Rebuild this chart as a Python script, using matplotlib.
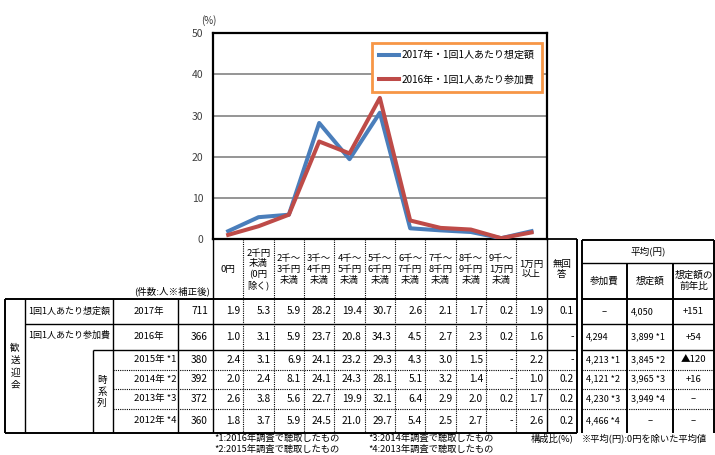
import matplotlib
matplotlib.use('Agg')
import matplotlib.pyplot as plt
import numpy as np

plt.rcParams['font.family'] = ['Noto Sans CJK JP', 'DejaVu Sans']

# ---------------- data ----------------
categories = ['0円', '2千円\n未満\n(0円\n除く)', '2千〜\n3千円\n未満', '3千〜\n4千円\n未満',
              '4千〜\n5千円\n未満', '5千〜\n6千円\n未満', '6千〜\n7千円\n未満', '7千〜\n8千円\n未満',
              '8千〜\n9千円\n未満', '9千〜\n1万円\n未満', '1万円\n以上', '無回\n答']
series_2017 = [1.9, 5.3, 5.9, 28.2, 19.4, 30.7, 2.6, 2.1, 1.7, 0.2, 1.9]
series_2016 = [1.0, 3.1, 5.9, 23.7, 20.8, 34.3, 4.5, 2.7, 2.3, 0.2, 1.6]
legend_labels = ['2017年・1回1人あたり想定額', '2016年・1回1人あたり参加費']
yticks = [0, 10, 20, 30, 40, 50]

group_label = '歓\n送\n迎\n会'
row_labels = ['1回1人あたり想定額', '1回1人あたり参加費']
series_label = '時\n系\n列'
years = ['2017年', '2016年', '2015年 *1', '2014年 *2', '2013年 *3', '2012年 *4']
counts = [711, 366, 380, 392, 372, 360]
no_answer = [0.1, None, None, 0.2, 0.2, 0.2]
rows_2015 = [2.4, 3.1, 6.9, 24.1, 23.2, 29.3, 4.3, 3.0, 1.5, None, 2.2]
rows_2014 = [2.0, 2.4, 8.1, 24.1, 24.3, 28.1, 5.1, 3.2, 1.4, None, 1.0]
rows_2013 = [2.6, 3.8, 5.6, 22.7, 19.9, 32.1, 6.4, 2.9, 2.0, 0.2, 1.7]
rows_2012 = [1.8, 3.7, 5.9, 24.5, 21.0, 29.7, 5.4, 2.5, 2.7, None, 2.6]

avg_header = '平均(円)'
avg_cols = ['参加費', '想定額', '想定額の\n前年比']
avg_sanka = [None, '4,294', '4,213 *1', '4,121 *2', '4,230 *3', '4,466 *4']
avg_sotei = ['4,050', '3,899 *1', '3,845 *2', '3,965 *3', '3,949 *4', None]
avg_ratio = ['+151', '+54', '▲120', '+16', None, None]

count_note = '(件数:人※補正後)'
footnotes = ['*1:2016年調査で聴取したもの', '*2:2015年調査で聴取したもの',
             '*3:2014年調査で聴取したもの', '*4:2013年調査で聴取したもの']
ratio_note = '構成比(%)'
avg_note = '※平均(円):0円を除いた平均値'

# ---------------- figure ----------------
W, H = 715, 455
fig = plt.figure(figsize=(7.15, 4.55), dpi=100)
ov = fig.add_axes([0, 0, 1, 1])
ov.set_xlim(0, W)
ov.set_ylim(H, 0)
ov.axis('off')

AX_L, AX_R, AX_T, AX_B = 213, 546.7, 33.3, 239
ax = fig.add_axes([AX_L / W, 1 - AX_B / H, (AX_R - AX_L) / W, (AX_B - AX_T) / H])
x = np.arange(len(series_2017))
ax.plot(x, series_2017, color='#4A7EBB', lw=2.9, label=legend_labels[0], zorder=3)
ax.plot(x, series_2016, color='#BE4B48', lw=2.9, label=legend_labels[1], zorder=3)
ax.set_xlim(-0.5, len(x) - 0.5)
ax.set_ylim(0, 50)
ax.set_yticks(yticks)
ax.set_xticks([])
ax.yaxis.grid(True, color='#8C8C8C', lw=1.3)
ax.set_axisbelow(True)
ax.tick_params(axis='y', length=0, pad=7, labelsize=7.5, labelcolor='#404040')
for s in ax.spines.values():
    s.set_linewidth(1.6)
    s.set_color('black')
leg = ax.legend(loc='upper right', bbox_to_anchor=(0.985, 0.955), borderaxespad=0,
                fontsize=7.2, handlelength=2.0, handletextpad=0.2, labelspacing=1.45,
                fancybox=False, framealpha=1, borderpad=0.75)
leg.get_frame().set_edgecolor('#F79646')
leg.get_frame().set_linewidth(2.0)
ov.text(209, 21, '(%)', fontsize=7, ha='center', va='center', color='#333333')

# ---------------- table ----------------
def hline(y, x0, x1, lw=1.0, ls='-'):
    ov.plot([x0, x1], [y, y], color='black', lw=lw, ls=ls, solid_capstyle='butt')

def vline(xv, y0, y1, lw=1.0, ls='-'):
    ov.plot([xv, xv], [y0, y1], color='black', lw=lw, ls=ls, solid_capstyle='butt')

DOT = (0, (1, 1))
ncat = len(series_2017)
cw = (AX_R - AX_L) / ncat
edges = [AX_L + i * cw for i in range(ncat + 1)] + [AX_R + cw]
rows_y = [299, 324, 350, 369.5, 389, 409, 433]
TX = 4.7
X_GRP, X_TS, X_LAB, X_CNT = 25, 92.7, 113.3, 178.3
XR = edges[-1]
HDR_TOP = AX_B
FS = 6.9

# header
hline(HDR_TOP, AX_R, XR, lw=1.3)
vline(AX_L, HDR_TOP, rows_y[-1], lw=1.0)
for i in range(1, ncat):
    vline(edges[i], HDR_TOP, rows_y[-1], lw=0.8, ls=DOT)
vline(edges[ncat], HDR_TOP, rows_y[-1], lw=1.0)
vline(XR, HDR_TOP, rows_y[-1], lw=1.4)
for i, lab in enumerate(categories):
    cx = (edges[i] + edges[i + 1]) / 2
    ov.text(cx, (HDR_TOP + rows_y[0]) / 2 + 0.5, lab, fontsize=6.8, ha='center', va='center',
            multialignment='center', linespacing=1.22)
ov.text(210, 291.5, count_note, fontsize=6.8, ha='right', va='center')

# table body grid
hline(rows_y[0], TX, XR, lw=1.4)
hline(rows_y[-1], TX, XR, lw=1.4)
hline(rows_y[1], X_GRP, XR, lw=1.0)
hline(rows_y[2], X_TS, XR, lw=1.0)
for y in rows_y[3:-1]:
    hline(y, X_LAB, XR, lw=0.8, ls=DOT)
vline(TX, rows_y[0], rows_y[-1], lw=1.4)
vline(X_GRP, rows_y[0], rows_y[-1], lw=1.0)
vline(X_TS, rows_y[2], rows_y[-1], lw=1.0)
vline(X_LAB, rows_y[0], rows_y[-1], lw=1.0)
vline(X_CNT, rows_y[0], rows_y[-1], lw=1.0)

ov.text(15, 367, group_label, fontsize=FS, ha='center', va='center', linespacing=1.4)
ov.text(102, 392, series_label, fontsize=FS, ha='center', va='center', linespacing=1.35)
for i, lab in enumerate(row_labels):
    ov.text(28, (rows_y[i] + rows_y[i + 1]) / 2 - (0 if i == 0 else 1.5), lab,
            fontsize=6.5, ha='left', va='center')

table_rows = [series_2017, series_2016, rows_2015, rows_2014, rows_2013, rows_2012]
for r in range(len(years)):
    cy = (rows_y[r] + rows_y[r + 1]) / 2
    ov.text(134, cy, years[r], fontsize=6.8, ha='left', va='center')
    ov.text(208, cy, str(counts[r]), fontsize=7.3, ha='right', va='center')
    vals = list(table_rows[r]) + [no_answer[r]]
    for i, v in enumerate(vals):
        s = '-' if v is None else f'{v:.1f}'
        ov.text(edges[i + 1] - 3, cy, s, fontsize=7.3, ha='right', va='center')

# average table
AL, A1, A2, AR = 581.7, 627, 673, 714
AVG_MID = 262.7
hline(HDR_TOP + 1, AL, AR, lw=1.4)
hline(AVG_MID, AL, AR, lw=1.0)
hline(rows_y[0], AL, AR, lw=1.4)
hline(rows_y[1], AL, AR, lw=1.0)
hline(rows_y[2], AL, AR, lw=1.0)
for y in rows_y[3:-1]:
    hline(y, AL, AR, lw=0.8, ls=DOT)
vline(AL, HDR_TOP + 1, rows_y[-1], lw=1.4)
vline(A1, AVG_MID, rows_y[-1], lw=1.4)
vline(A2, AVG_MID, rows_y[-1], lw=1.4)
vline(AR, HDR_TOP + 1, rows_y[-1], lw=1.4)
ov.text((AL + AR) / 2, (HDR_TOP + AVG_MID) / 2, avg_header, fontsize=FS, ha='center', va='center')
for (x0, x1), lab in zip([(AL, A1), (A1, A2), (A2, AR)], avg_cols):
    ov.text((x0 + x1) / 2, (AVG_MID + rows_y[0]) / 2, lab, fontsize=FS, ha='center',
            va='center', multialignment='center', linespacing=1.2)
for r in range(len(years)):
    cy = (rows_y[r] + rows_y[r + 1]) / 2
    for (x0, x1), v in zip([(AL, A1), (A1, A2)], [avg_sanka[r], avg_sotei[r]]):
        if v is None:
            ov.text((x0 + x1) / 2, cy, '–', fontsize=FS, ha='center', va='center')
        else:
            ov.text(x0 + 4, cy, v, fontsize=6.5, ha='left', va='center')
    v = avg_ratio[r]
    ov.text((A2 + AR) / 2, cy, '–' if v is None else v, fontsize=FS, ha='center', va='center')

# notes
ov.text(214, 438.5, footnotes[0], fontsize=6.7, ha='left', va='center')
ov.text(214, 449, footnotes[1], fontsize=6.7, ha='left', va='center')
ov.text(368, 438.5, footnotes[2], fontsize=6.7, ha='left', va='center')
ov.text(368, 449, footnotes[3], fontsize=6.7, ha='left', va='center')
ov.text(574, 438.5, ratio_note, fontsize=6.7, ha='right', va='center')
ov.text(582, 438.5, avg_note, fontsize=6.7, ha='left', va='center')

fig.savefig('out.png', dpi=100)
